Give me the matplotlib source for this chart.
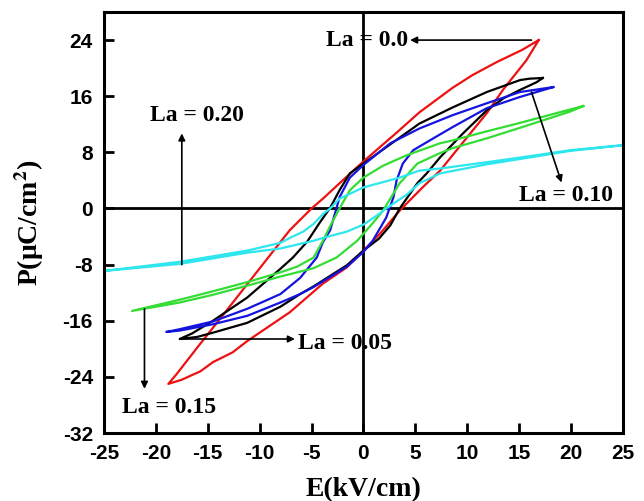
import numpy as np
import matplotlib
matplotlib.use("Agg")
from matplotlib import pyplot as plt
from matplotlib import rcParams

rcParams.update({
    "mathtext.fontset": "stix",
    "mathtext.default": "bf",
    "axes.unicode_minus": False,
})

serifFont = "Liberation Serif"
sansFont = "Liberation Sans"

c_red = "#ee1111"
c_black = "#000000"
c_blue = "#1414e0"
c_green = "#33dd33"
c_cyan = "#2ee6ee"

# La = 0.0 (red)
red_up_E = [16.9, 15.3, 12.9, 10.5, 8.6, 5.4, 3.2, 0.0, -2.0, -3.9, -5.0, -7.1, -10.3, -13.8, -16.0, -17.0, -18.0, -18.8]
red_up_P = [24.0, 22.6, 20.9, 19.0, 17.2, 13.7, 10.8, 6.7, 4.0, 1.4, 0.0, -3.1, -9.1, -15.7, -19.8, -21.7, -23.6, -25.0]
red_lo_E = [-18.8, -17.5, -15.7, -14.5, -12.6, -11.2, -9.3, -7.1, -3.9, -1.6, 0.0, 1.6, 3.5, 5.7, 7.4, 8.6, 11.9, 13.5, 15.7, 16.9]
red_lo_P = [-25.0, -24.4, -23.2, -21.9, -20.5, -18.9, -17.0, -14.8, -10.7, -8.4, -6.0, -3.6, -0.3, 3.0, 5.4, 7.6, 13.6, 17.0, 21.1, 24.0]

# La = 0.05 (black)
blk_up_E = [17.3, 16.0, 15.1, 11.9, 8.6, 5.4, 3.5, 0.0, -1.3, -2.3, -3.2, -4.2, -5.4, -6.8, -8.0, -11.2, -14.5, -16.5, -17.7]
blk_up_P = [18.6, 18.5, 18.3, 16.6, 14.4, 12.1, 10.1, 6.4, 5.0, 2.6, 0.1, -2.0, -4.7, -7.0, -8.6, -12.7, -16.0, -17.8, -18.6]
blk_lo_E = [-17.7, -16.0, -14.5, -11.2, -8.0, -6.1, -4.8, -1.6, 0.0, 1.5, 2.6, 3.5, 5.2, 6.1, 7.4, 9.6, 11.9, 13.5, 15.1, 16.7, 17.3]
blk_lo_P = [-18.6, -18.3, -17.7, -16.3, -14.0, -12.2, -11.1, -8.1, -6.0, -4.3, -2.4, 0.0, 3.6, 5.0, 7.3, 10.7, 14.0, 15.7, 16.9, 18.0, 18.6]

# La = 0.10 (blue)
blu_up_E = [18.3, 15.1, 11.9, 8.6, 5.4, 2.6, 0.0, -1.3, -2.3, -2.6, -3.2, -3.9, -4.5, -6.1, -8.0, -11.2, -14.5, -17.7, -19.0]
blu_up_P = [17.3, 16.6, 15.0, 13.3, 11.4, 9.3, 6.2, 4.4, 1.6, 0.0, -3.1, -4.8, -7.0, -9.9, -12.2, -14.3, -16.1, -17.2, -17.6]
blu_lo_E = [-19.0, -17.7, -14.5, -11.2, -8.0, -6.1, -4.8, -1.6, 0.0, 0.9, 2.2, 2.9, 3.2, 3.8, 4.8, 6.4, 8.6, 11.9, 15.1, 18.3]
blu_lo_P = [-17.6, -17.4, -16.5, -15.3, -13.4, -12.2, -11.2, -8.3, -6.2, -4.6, -1.3, 1.6, 4.0, 6.4, 8.3, 9.7, 11.6, 14.3, 15.9, 17.3]

# La = 0.15 (green)
grn_up_E = [21.2, 19.9, 15.1, 11.9, 8.6, 7.4, 4.2, 1.9, 0.0, -1.3, -2.3, -3.2, -3.9, -4.8, -6.4, -8.0, -11.2, -14.5, -17.7, -22.3]
grn_up_P = [14.6, 14.1, 12.2, 11.0, 9.7, 9.3, 7.6, 6.1, 4.4, 2.6, 0.0, -2.5, -4.6, -7.0, -8.3, -9.1, -10.5, -11.8, -13.0, -14.6]
grn_lo_E = [-22.3, -17.7, -14.5, -11.2, -8.0, -6.1, -4.8, -2.6, -0.6, 0.9, 1.9, 3.5, 5.2, 7.4, 8.6, 11.9, 15.1, 19.9, 21.2]
grn_lo_P = [-14.6, -13.4, -12.3, -11.0, -9.7, -9.0, -8.5, -7.0, -4.6, -2.1, -0.3, 3.6, 6.4, 7.9, 8.6, 10.0, 11.5, 13.8, 14.6]

# La = 0.20 (cyan)
cyn_up_E = [24.9, 19.9, 15.3, 11.9, 7.4, 5.4, 3.5, 0.0, -2.3, -3.2, -3.9, -4.8, -5.8, -7.1, -8.0, -11.2, -17.7, -25.0]
cyn_up_P = [9.0, 8.3, 7.3, 6.6, 5.7, 5.4, 4.4, 3.0, 1.4, 0.0, -0.8, -2.2, -3.3, -4.2, -4.9, -6.0, -7.6, -8.9]
cyn_lo_E = [-25.0, -17.7, -11.2, -8.0, -4.8, -3.9, -1.6, 0.0, 1.6, 1.9, 4.2, 5.4, 7.4, 11.9, 15.3, 19.9, 24.9]
cyn_lo_P = [-8.9, -7.9, -6.3, -5.7, -4.6, -4.2, -3.3, -2.3, -0.7, -0.3, 2.0, 3.6, 5.0, 6.3, 7.1, 8.2, 9.0]

x_ticks = [-25, -20, -15, -10, -5, 0, 5, 10, 15, 20, 25]
y_ticks = [-32, -24, -16, -8, 0, 8, 16, 24]

fig = plt.figure(figsize=(6.44, 5.01), dpi=100)
ax = fig.add_axes([0.1615, 0.1357, 0.8055, 0.8403])

# zero lines
ax.axhline(0, color="k", lw=2.0, zorder=1)
ax.axvline(0, color="k", lw=2.0, zorder=1)

loops = [
    (red_up_E, red_up_P, red_lo_E, red_lo_P, c_red),
    (blk_up_E, blk_up_P, blk_lo_E, blk_lo_P, c_black),
    (blu_up_E, blu_up_P, blu_lo_E, blu_lo_P, c_blue),
    (grn_up_E, grn_up_P, grn_lo_E, grn_lo_P, c_green),
    (cyn_up_E, cyn_up_P, cyn_lo_E, cyn_lo_P, c_cyan),
]
for upE, upP, loE, loP, col in loops:
    ax.plot(upE + loE, upP + loP, color=col, lw=1.6, zorder=2, solid_joinstyle="round")

ax.set_xlim(-25, 25)
ax.set_ylim(-32, 28)
ax.set_xticks(x_ticks)
ax.set_yticks(y_ticks)
ax.tick_params(axis="both", direction="in", length=7, width=2, pad=8,
               top=False, right=False)
for lab in ax.get_xticklabels() + ax.get_yticklabels():
    lab.set_fontfamily(sansFont)
    lab.set_fontweight("bold")
    lab.set_fontsize(15)
for sp in ax.spines.values():
    sp.set_linewidth(2.2)

ax.set_xlabel("E(kV/cm)", fontfamily=serifFont, fontweight="bold", fontsize=20, labelpad=10)
ax.set_ylabel("P(\u03bcC/cm$^{2}$)", fontfamily=serifFont, fontweight="bold", fontsize=20, labelpad=12)

# annotations
labelFont = {"family": serifFont, "weight": "bold", "size": 17}
arrow = dict(arrowstyle="-|>", color="k", lw=1.2, mutation_scale=10, shrinkA=0, shrinkB=0)

ax.annotate("", xy=(4.5, 24.0), xytext=(16.2, 24.0), arrowprops=arrow)
ax.text(4.3, 24.0, "La = 0.0", ha="right", va="center", fontdict=labelFont)

ax.annotate("", xy=(19.1, 3.7), xytext=(16.2, 16.6), arrowprops=arrow)
ax.text(19.5, 1.9, "La = 0.10", ha="center", va="center", fontdict=labelFont)

ax.annotate("", xy=(-6.6, -18.6), xytext=(-17.7, -18.6), arrowprops=arrow)
ax.text(-6.3, -19.3, "La = 0.05", ha="left", va="center", fontdict=labelFont)

ax.annotate("", xy=(-21.1, -25.7), xytext=(-21.1, -14.3), arrowprops=arrow)
ax.text(-18.7, -28.4, "La = 0.15", ha="center", va="center", fontdict=labelFont)

ax.annotate("", xy=(-17.5, 10.7), xytext=(-17.5, -8.0), arrowprops=arrow)
ax.text(-16.0, 13.3, "La = 0.20", ha="center", va="center", fontdict=labelFont)

plt.savefig("out.png", dpi=100)
plt.close()
